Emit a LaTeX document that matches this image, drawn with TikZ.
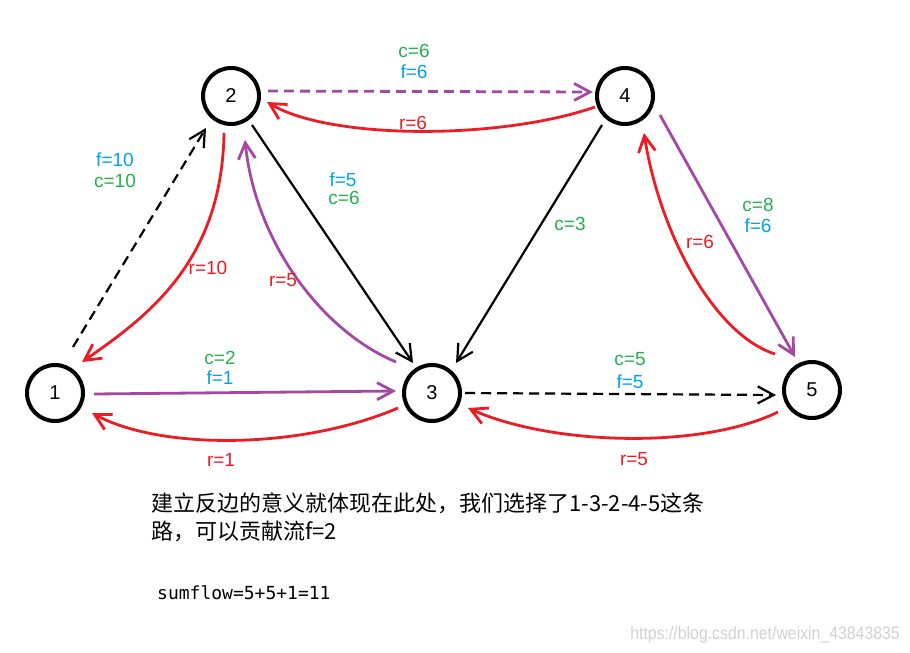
\documentclass[tikz,border=0pt]{standalone}
\usepackage{fontspec}
\setmainfont{Liberation Sans}
\newfontfamily\cjk{Noto Sans CJK SC}
\newfontfamily\monofnt{DejaVu Sans Mono}
\newfontfamily\wmfont[FakeStretch=0.88]{Liberation Sans}
\usetikzlibrary{arrows.meta,calc}
\definecolor{pRed}{HTML}{ED1C24}
\definecolor{pPurple}{HTML}{A349A4}
\definecolor{pGreen}{HTML}{22B14C}
\definecolor{pBlue}{HTML}{00A2E8}
\begin{document}
\begin{tikzpicture}[x=1pt,y=-1pt,
  >={Straight Barb[length=16pt,width=17pt]},
  vtx/.style={circle,draw=black,line width=4pt,minimum size=56pt,inner sep=0pt,
    font=\fontsize{20}{20}\selectfont},
  blkE/.style={draw=black,line width=2.2pt,->},
  redE/.style={draw=pRed,line width=2.8pt,->},
  purE/.style={draw=pPurple,line width=2.8pt,->},
  dashE/.style={dash pattern=on 10pt off 6pt},
  lbl/.style={inner sep=0pt,font=\fontsize{19}{19}\selectfont},
  gl/.style={lbl,text=pGreen},
  bl/.style={lbl,text=pBlue},
  rl/.style={lbl,text=pRed}]
\useasboundingbox (0,0) rectangle (910,653);
\fill[white] (0,0) rectangle (910,653);

% vertices
\node[vtx] (n1) at (55,393) {1};
\node[vtx] (n2) at (231,96) {2};
\node[vtx] (n3) at (432,393) {3};
\node[vtx] (n4) at (625,96) {4};
\node[vtx] (n5) at (812,390) {5};

% edges
\draw[blkE,dashE] ($(n1)+(18,-46)$) -- ($(n2)+(-25,32)$);
\draw[redE] ($(n2)+(-7,37)$) .. controls (222,260) and (150,315) .. ($(n1)+(27,-31)$);
\draw[purE] ($(n1)+(39,1)$) -- ($(n3)+(-36,-2)$);
\draw[redE] ($(n3)+(-34,15)$) .. controls (300,450) and (160,450) .. ($(n1)+(37,20)$);
\draw[blkE] ($(n2)+(21,29)$) -- ($(n3)+(-19,-30)$);
\draw[purE] ($(n3)+(-36,-31)$) .. controls (320,330) and (255,240) .. ($(n2)+(14,44)$);
\draw[purE,dashE] ($(n2)+(37,-5)$) -- ($(n4)+(-32,-4)$);
\draw[redE] ($(n4)+(-30,11)$) .. controls (500,140) and (330,140) .. ($(n2)+(36,6)$);
\draw[blkE] ($(n4)+(-23,29)$) -- ($(n3)+(24,-30)$);
\draw[purE] ($(n4)+(35,19)$) -- ($(n5)+(-17,-33)$);
\draw[redE] ($(n5)+(-37,-36)$) .. controls (715,335) and (660,235) .. ($(n4)+(19,37)$);
\draw[blkE,dashE] ($(n3)+(33,0)$) -- ($(n5)+(-36,5)$);
\draw[redE] ($(n5)+(-34,22)$) .. controls (700,450) and (550,445) .. ($(n3)+(36,15)$);

% labels
\node[gl] (l24c) at (414,51) {c=6};
\node[bl] (l24f) at (414,72) {f=6};
\node[rl] (l42r) at (413,123) {r=6};
\node[bl] (l12f) at (115,160) {f=10};
\node[gl] (l12c) at (115,181) {c=10};
\node[bl] (l23f) at (343,180) {f=5};
\node[gl] (l23c) at (344,198) {c=6};
\node[rl] (l21r) at (208,268) {r=10};
\node[rl] (l32r) at (283,280) {r=5};
\node[gl] (l13c) at (220,358) {c=2};
\node[bl] (l13f) at (220,378) {f=1};
\node[rl] (l31r) at (221,460) {r=1};
\node[gl] (l43c) at (570,224) {c=3};
\node[gl] (l45c) at (758,205) {c=8};
\node[bl] (l45f) at (758,226) {f=6};
\node[rl] (l54r) at (700,242) {r=6};
\node[gl] (l35c) at (630,359) {c=5};
\node[bl] (l35f) at (630,382) {f=5};
\node[rl] (l53r) at (634,459) {r=5};

% text
\node[anchor=base west,inner sep=0pt,font=\cjk\fontsize{22}{22}\selectfont] (t1) at (151,511)
  {建立反边的意义就体现在此处，我们选择了1-3-2-4-5这条};
\node[anchor=base west,inner sep=0pt,font=\cjk\fontsize{22}{22}\selectfont] (t2) at (151,539)
  {路，可以贡献流f=2};
\node[anchor=west,inner sep=0pt,font=\monofnt\fontsize{18}{18}\selectfont] (t3) at (157,593)
  {sumflow=5+5+1=11};
\node[anchor=east,inner sep=0pt,text=black!18,font=\wmfont\fontsize{18}{18}\selectfont] (wm) at (900,635)
  {https://blog.csdn.net/weixin\_43843835};
\end{tikzpicture}
\end{document}
